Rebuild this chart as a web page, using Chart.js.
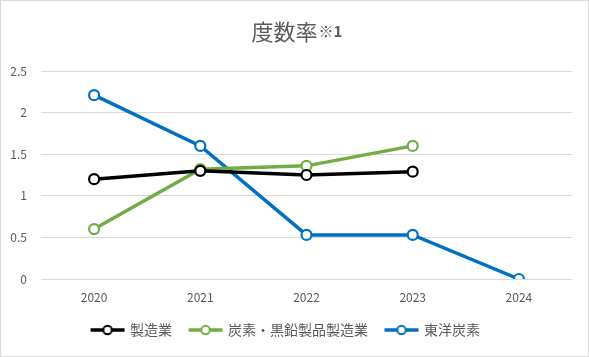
<!DOCTYPE html>
<html>
<head>
<meta charset="utf-8">
<script src="https://cdn.jsdelivr.net/npm/chart.js@4"></script>
<style>
html,body{margin:0;padding:0;background:#fff;}
#wrap{width:589px;height:357px;position:relative;}
</style>
</head>
<body>
<div id="wrap"><canvas id="c" width="589" height="357"></canvas></div>
<script>
const years = ['2020', '2021', '2022', '2023', '2024'];
const manufacturing = [1.20, 1.30, 1.25, 1.29, null];
const carbonGraphite = [0.60, 1.32, 1.36, 1.60, null];
const toyoTanso = [2.21, 1.60, 0.53, 0.53, 0.00];
const seriesNames = ['製造業', '炭素・黒鉛製品製造業', '東洋炭素'];
const seriesColors = ['#000000', '#70ad47', '#0070c0'];
const titleMain = '度数率';
const titleNote = '※1';

const FONT = '"Noto Sans CJK JP", "Noto Sans", sans-serif';

function legendIcon(color) {
  const cv = document.createElement('canvas');
  cv.width = 36; cv.height = 14;
  const g = cv.getContext('2d');
  g.strokeStyle = color; g.lineWidth = 3.5;
  g.beginPath(); g.moveTo(1, 7); g.lineTo(35, 7); g.stroke();
  g.beginPath(); g.arc(18, 7, 4.2, 0, Math.PI * 2);
  g.fillStyle = '#fff'; g.fill();
  g.lineWidth = 2; g.stroke();
  return cv;
}
const icons = seriesColors.map(legendIcon);

const frameAndTitle = {
  id: 'frameAndTitle',
  afterDraw(chart) {
    const ctx = chart.ctx;
    ctx.save();
    ctx.strokeStyle = '#d9d9d9';
    ctx.lineWidth = 1;
    ctx.strokeRect(0.5, 0.5, chart.width - 1, chart.height - 1);
    ctx.fillStyle = '#595959';
    ctx.textBaseline = 'middle';
    ctx.font = '22px ' + FONT;
    const w1 = ctx.measureText(titleMain).width;
    ctx.font = 'bold 15px ' + FONT;
    const w2 = ctx.measureText(titleNote).width;
    const x0 = chart.width / 2 + 2 - (w1 + w2) / 2;
    ctx.textAlign = 'left';
    ctx.font = '22px ' + FONT;
    ctx.fillText(titleMain, x0, 32);
    ctx.font = 'bold 15px ' + FONT;
    ctx.fillText(titleNote, x0 + w1 + 1, 31);
    ctx.restore();
  }
};

function ds(i, data) {
  return {
    label: seriesNames[i],
    data: data,
    borderColor: seriesColors[i],
    backgroundColor: '#ffffff',
    borderWidth: 3.5,
    pointRadius: 5,
    pointHoverRadius: 5,
    pointBorderWidth: 2.2,
    pointBackgroundColor: '#ffffff',
    pointBorderColor: seriesColors[i],
    tension: 0,
    spanGaps: false
  };
}

new Chart(document.getElementById('c'), {
  type: 'line',
  data: {
    labels: years,
    datasets: [ds(0, manufacturing), ds(1, carbonGraphite), ds(2, toyoTanso)]
  },
  options: {
    responsive: false,
    animation: false,
    events: [],
    layout: { padding: { top: 71, left: 0, right: 17, bottom: 10 } },
    plugins: {
      title: { display: false },
      tooltip: { enabled: false },
      legend: {
        position: 'bottom',
        labels: {
          font: { family: FONT, size: 14 },
          color: '#595959',
          usePointStyle: true,
          pointStyleWidth: 31,
          padding: 18,
          generateLabels(chart) {
            return chart.data.datasets.map((d, i) => ({
              text: d.label,
              fillStyle: '#fff',
              strokeStyle: seriesColors[i],
              lineWidth: 0,
              pointStyle: icons[i],
              fontColor: '#595959',
              hidden: false,
              datasetIndex: i
            }));
          }
        }
      }
    },
    scales: {
      x: {
        offset: true,
        grid: { display: false, drawTicks: false },
        border: { display: false },
        ticks: { color: '#595959', font: { family: FONT, size: 12 }, padding: 11 },
        afterFit(scale) { scale.height = 26; }
      },
      y: {
        min: 0, max: 2.5,
        ticks: {
          stepSize: 0.5, color: '#595959', font: { family: FONT, size: 12 }, padding: 14,
          callback: (v) => String(Math.round(v * 10) / 10)
        },
        grid: { color: '#d9d9d9', lineWidth: 1, drawTicks: false },
        border: { display: false },
        afterFit(scale) { scale.width = 41; }
      }
    }
  },
  plugins: [frameAndTitle]
});
</script>
</body>
</html>
